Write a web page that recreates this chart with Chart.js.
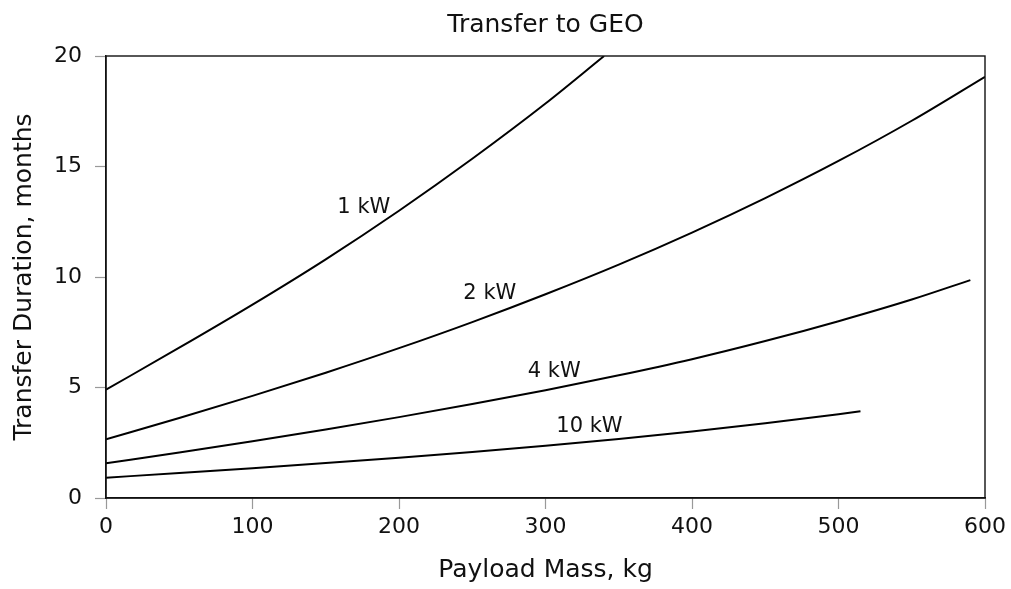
<!DOCTYPE html>
<html>
<head>
<meta charset="utf-8">
<script src="https://cdn.jsdelivr.net/npm/chart.js@4/dist/chart.umd.min.js"></script>
<style>
  html, body { margin: 0; padding: 0; background: #fff; }
  #wrap { width: 1011px; height: 589px; }
</style>
</head>
<body>
<div id="wrap"><canvas id="c" width="1011" height="589"></canvas></div>
<script>
// ---- data ----
const chartTitle = 'Transfer to GEO';
const xAxisTitle = 'Payload Mass, kg';
const yAxisTitle = 'Transfer Duration, months';
const seriesNames = ['1 kW', '2 kW', '4 kW', '10 kW'];

const mass1kW = [0, 50, 100, 150, 200, 250, 300, 340];
const dur1kW  = [4.9, 6.8, 8.75, 10.8, 13.0, 15.35, 17.85, 20.0];

const mass2kW = [0, 50, 100, 150, 200, 250, 300, 350, 400, 450, 500, 550, 600];
const dur2kW  = [2.66, 3.62, 4.62, 5.67, 6.78, 7.96, 9.22, 10.56, 12.01, 13.57, 15.25, 17.07, 19.06];

const mass4kW = [0, 50, 100, 150, 200, 250, 300, 350, 400, 450, 500, 550, 590];
const dur4kW  = [1.57, 2.06, 2.57, 3.10, 3.66, 4.25, 4.88, 5.55, 6.28, 7.10, 8.00, 8.98, 9.86];

const mass10kW = [0, 50, 100, 150, 200, 250, 300, 350, 400, 450, 500, 515];
const dur10kW  = [0.92, 1.13, 1.35, 1.58, 1.82, 2.08, 2.36, 2.67, 3.01, 3.38, 3.79, 3.93];

const xTicks = [0, 100, 200, 300, 400, 500, 600];
const yTicks = [0, 5, 10, 15, 20];

// curve label anchors (kg, months) - placement only
const labelAnchors = [[176, 13.15], [262, 9.25], [306, 5.7], [330, 3.25]];

// ---- build ----
function pts(xs, ys) { return xs.map((x, i) => ({ x: x, y: ys[i] })); }
const seriesData = [pts(mass1kW, dur1kW), pts(mass2kW, dur2kW), pts(mass4kW, dur4kW), pts(mass10kW, dur10kW)];

const FONT = "'DejaVu Sans', sans-serif";

const framePlugin = {
  id: 'frame',
  afterDatasetsDraw(chart) {
    const { ctx, chartArea: a } = chart;
    ctx.save();
    ctx.strokeStyle = '#111';
    ctx.lineWidth = 1.4;
    ctx.strokeRect(a.left, a.top, a.right - a.left, a.bottom - a.top);
    ctx.restore();
  }
};

const curveLabels = {
  id: 'curveLabels',
  afterDatasetsDraw(chart) {
    const { ctx, scales } = chart;
    ctx.save();
    ctx.font = '21px ' + FONT;
    ctx.fillStyle = '#111';
    ctx.textAlign = 'center';
    ctx.textBaseline = 'middle';
    seriesNames.forEach((name, i) => {
      const [kx, ky] = labelAnchors[i];
      ctx.fillText(name, scales.x.getPixelForValue(kx), scales.y.getPixelForValue(ky));
    });
    ctx.restore();
  }
};

new Chart(document.getElementById('c'), {
  type: 'line',
  data: {
    datasets: seriesData.map((d, i) => ({
      label: seriesNames[i],
      data: d,
      borderColor: '#000',
      borderWidth: 2,
      pointRadius: 0,
      fill: false,
      cubicInterpolationMode: 'monotone'
    }))
  },
  options: {
    responsive: false,
    animation: false,
    events: [],
    layout: { padding: { left: 0, right: 26, top: 0, bottom: 0 } },
    plugins: {
      legend: { display: false },
      tooltip: { enabled: false },
      title: {
        display: true,
        fullSize: false,
        text: chartTitle,
        color: '#111',
        font: { family: FONT, size: 25, weight: 'normal' },
        padding: { top: 10, bottom: 16 }
      }
    },
    scales: {
      x: {
        type: 'linear',
        min: 0, max: 600,
        afterBuildTicks(scale) { scale.ticks = xTicks.map(v => ({ value: v })); },
        afterFit(scale) { scale.height = 91; },
        ticks: { color: '#111', padding: 5, font: { family: FONT, size: 22 } },
        grid: { drawOnChartArea: false, drawTicks: true, tickLength: 11, tickColor: '#999', tickWidth: 1.2 },
        border: { display: true, color: '#111', width: 1.4 },
        title: { display: true, text: xAxisTitle, color: '#111', font: { family: FONT, size: 25 }, padding: { top: 6, bottom: 4 } }
      },
      y: {
        type: 'linear',
        min: 0, max: 20,
        afterBuildTicks(scale) { scale.ticks = yTicks.map(v => ({ value: v })); },
        afterFit(scale) { scale.width = 106; },
        ticks: { color: '#111', padding: 13, font: { family: FONT, size: 22 } },
        grid: { drawOnChartArea: false, drawTicks: true, tickLength: 11, tickColor: '#999', tickWidth: 1.2 },
        border: { display: true, color: '#111', width: 1.4 },
        title: { display: true, text: yAxisTitle, color: '#111', font: { family: FONT, size: 25 }, padding: { top: 9, bottom: 0 } }
      }
    }
  },
  plugins: [framePlugin, curveLabels]
});
</script>
</body>
</html>
